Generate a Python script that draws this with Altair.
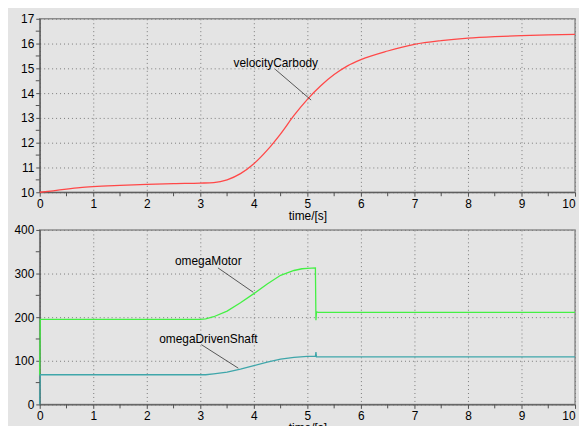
import altair as alt
import pandas as pd

# ---- data ----
vel_t = [0, 0.25, 0.5, 0.75, 1, 1.5, 2, 2.5, 3, 3.25, 3.5, 3.75, 4, 4.25, 4.5, 4.75,
         5, 5.25, 5.5, 5.75, 6, 6.5, 7, 7.5, 8, 8.5, 9, 9.5, 10]
vel_v = [10.0, 10.06, 10.13, 10.19, 10.23, 10.28, 10.32, 10.35, 10.37, 10.39, 10.5, 10.75,
         11.15, 11.7, 12.36, 13.1, 13.75, 14.3, 14.75, 15.1, 15.35, 15.7, 15.97, 16.12,
         16.22, 16.28, 16.32, 16.35, 16.37]

mot_t = [0, 0.01, 1, 2, 3, 3.1, 3.25, 3.5, 3.75, 4.0, 4.25, 4.5, 4.75, 4.9, 5.0, 5.15,
         5.16, 5.17, 5.2, 6, 7, 8, 9, 10]
mot_v = [66, 195, 195, 195, 195, 196, 201, 214, 233, 254, 276, 296, 307, 311, 312, 313,
         193, 212, 211, 211, 211, 211, 211, 211]

shaft_t = [0, 0.01, 1, 2, 3, 3.1, 3.25, 3.5, 3.75, 4.0, 4.25, 4.5, 4.75, 5.0, 5.15,
           5.16, 5.17, 5.2, 6, 7, 8, 9, 10]
shaft_v = [0, 68, 68, 68, 68, 68, 70, 74, 81, 89, 97, 104, 108, 110, 110,
           120, 109, 109, 109, 109, 109, 109, 109]

# tick positions
x_major = list(range(0, 11))
x_minor = [0.5 + i for i in range(10)]
top_y_major = list(range(10, 18))
top_y_minor = [10.5 + i for i in range(7)]
bot_y_major = [0, 100, 200, 300, 400]
bot_y_minor = [50, 150, 250, 350]

top_label = ["velocityCarbody"]
top_label_t = [4.41]
top_label_v = [15.2]
top_lead_t = [4.40]
top_lead_v = [14.96]
top_lead_t2 = [5.07]
top_lead_v2 = [13.72]

bot_labels = ["omegaMotor", "omegaDrivenShaft"]
bot_label_t = [3.15, 3.15]
bot_label_v = [328, 151]
bot_lead_t = [3.33, 3.02]
bot_lead_v = [313, 137]
bot_lead_t2 = [3.99, 3.71]
bot_lead_v2 = [257, 83]

BG = "#e4e4e4"
FONT = "Liberation Sans"
TICK = "#505050"
W, H1, H2 = 540, 175, 176

df_vel = pd.DataFrame({"t": vel_t, "v": vel_v})
df_om = pd.concat([
    pd.DataFrame({"t": mot_t, "v": mot_v, "s": "omegaMotor"}),
    pd.DataFrame({"t": shaft_t, "v": shaft_v, "s": "omegaDrivenShaft"}),
])
df_top_lab = pd.DataFrame({"t": top_label_t, "v": top_label_v, "label": top_label})
df_top_lead = pd.DataFrame({"t": top_lead_t, "v": top_lead_v, "t2": top_lead_t2, "v2": top_lead_v2})
df_bot_lab = pd.DataFrame({"t": bot_label_t, "v": bot_label_v, "label": bot_labels})
df_bot_lead = pd.DataFrame({"t": bot_lead_t, "v": bot_lead_v, "t2": bot_lead_t2, "v2": bot_lead_v2})

XAX = alt.Axis(values=x_major, format="d", title="time/[s]", grid=True, labelOverlap=False,
               labelAlign={"condition": {"test": "datum.value === 10", "value": "right"}, "value": "center"})


def yaxis(vals):
    return alt.Axis(values=vals, format="d", title=None, grid=True, labelOverlap=False,
                    minExtent=31, maxExtent=31)


xs = alt.Scale(domain=[0, 10], nice=False)
top_ys = alt.Scale(domain=[10, 17], nice=False)
bot_ys = alt.Scale(domain=[0, 400], nice=False)
TOP_YAX = yaxis(top_y_major)
BOT_YAX = yaxis(bot_y_major)


def X(field="t"):
    return alt.X(f"{field}:Q", scale=xs, axis=XAX)


def minor_ticks(ys, height, yscale, yax):
    xt = alt.Chart(pd.DataFrame({"t": x_minor})).mark_rule(color=TICK, strokeWidth=1).encode(
        x=X(), y=alt.value(height), y2=alt.value(height + 4))
    yt = alt.Chart(pd.DataFrame({"v": ys})).mark_rule(color=TICK, strokeWidth=1).encode(
        y=alt.Y("v:Q", scale=yscale, axis=yax), x=alt.value(-4), x2=alt.value(0))
    return [xt, yt]


top_line = alt.Chart(df_vel).mark_line(color="#ff4848", strokeWidth=1.3, interpolate="monotone").encode(
    x=X(), y=alt.Y("v:Q", scale=top_ys, axis=TOP_YAX))
top_text = alt.Chart(df_top_lab).mark_text(font=FONT, fontSize=12, color="#000000").encode(
    x=X(), y=alt.Y("v:Q", scale=top_ys, axis=TOP_YAX), text="label:N")
top_rule = alt.Chart(df_top_lead).mark_rule(color="#333333", strokeWidth=0.8).encode(
    x=X(), y=alt.Y("v:Q", scale=top_ys, axis=TOP_YAX), x2="t2:Q", y2="v2:Q")
top = alt.layer(top_line, *minor_ticks(top_y_minor, H1, top_ys, TOP_YAX), top_rule, top_text).properties(
    width=W, height=H1)

bot_line = alt.Chart(df_om).mark_line(strokeWidth=1.3).encode(
    x=X(),
    y=alt.Y("v:Q", scale=bot_ys, axis=BOT_YAX),
    color=alt.Color("s:N", scale=alt.Scale(domain=["omegaMotor", "omegaDrivenShaft"],
                                           range=["#44f044", "#3fa6aa"]), legend=None),
)
bot_text = alt.Chart(df_bot_lab).mark_text(font=FONT, fontSize=12, color="#000000").encode(
    x=X(), y=alt.Y("v:Q", scale=bot_ys, axis=BOT_YAX), text="label:N")
bot_rule = alt.Chart(df_bot_lead).mark_rule(color="#333333", strokeWidth=0.8).encode(
    x=X(), y=alt.Y("v:Q", scale=bot_ys, axis=BOT_YAX), x2="t2:Q", y2="v2:Q")
bottom = alt.layer(bot_line, *minor_ticks(bot_y_minor, H2, bot_ys, BOT_YAX), bot_rule, bot_text).properties(
    width=W, height=H2)

chart = alt.vconcat(top, bottom, spacing=1).properties(
    padding={"top": 2, "left": 0, "right": 0, "bottom": 0},
    background=BG,
).configure_view(
    fill=BG, stroke="#8c8c8c", strokeWidth=1.5
).configure_axis(
    domainColor=TICK, tickColor=TICK, tickSize=4,
    labelColor="#000000", labelFont=FONT, labelFontSize=12, labelPadding=2,
    gridColor="#7a7a7a", gridDash=[1, 3], gridWidth=1,
    titleFont=FONT, titleFontSize=12, titleFontWeight="normal", titleColor="#000000",
    titlePadding=1,
)

chart.save("out.html", embed_options={"renderer": "svg", "actions": False})
